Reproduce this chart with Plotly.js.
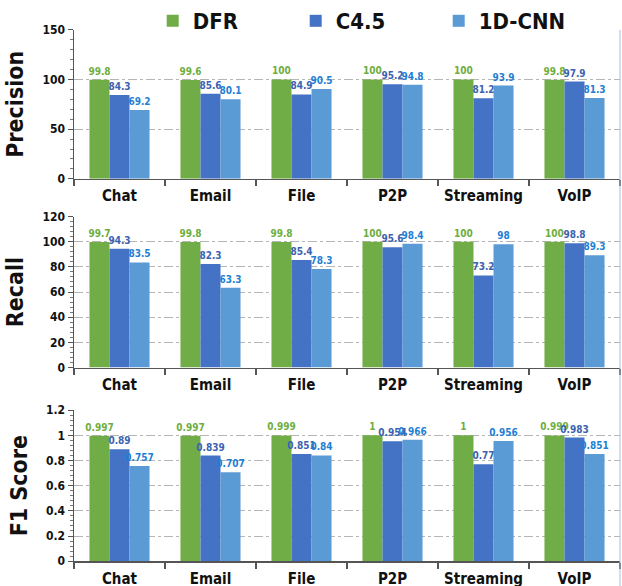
<!DOCTYPE html>
<html>
<head>
<meta charset="utf-8">
<script src="https://cdn.plot.ly/plotly-3.0.1.min.js"></script>
<style>html,body{margin:0;padding:0;background:#fff}#chart{width:622px;height:586px}</style>
</head>
<body>
<div id="chart"></div>
<script>
const categories = ["Chat", "Email", "File", "P2P", "Streaming", "VoIP"];
const seriesNames = ["DFR", "C4.5", "1D-CNN"];

const precisionDFR = [99.8, 99.6, 100, 100, 100, 99.8];
const precisionC45 = [84.3, 85.6, 84.9, 95.2, 81.2, 97.9];
const precisionCNN = [69.2, 80.1, 90.5, 94.8, 93.9, 81.3];

const recallDFR = [99.7, 99.8, 99.8, 100, 100, 100];
const recallC45 = [94.3, 82.3, 85.4, 95.6, 73.2, 98.8];
const recallCNN = [83.5, 63.3, 78.3, 98.4, 98, 89.3];

const f1DFR = [0.997, 0.997, 0.999, 1, 1, 0.999];
const f1C45 = [0.89, 0.839, 0.851, 0.954, 0.77, 0.983];
const f1CNN = [0.757, 0.707, 0.84, 0.966, 0.956, 0.851];

const panelTitles = ["Precision", "Recall", "F1 Score"];

const barColors = ["#70AD47", "#4472C4", "#5B9BD5"];
const labelColors = ["#6DAE3E", "#3C62B0", "#1F7FD4"];

const FONT = "'DejaVu Sans Condensed', 'Liberation Sans Narrow', sans-serif";

const panels = [
  [precisionDFR, precisionC45, precisionCNN],
  [recallDFR, recallC45, recallCNN],
  [f1DFR, f1C45, f1CNN]
];

const traces = [];
panels.forEach((series, p) => {
  series.forEach((vals, s) => {
    traces.push({
      type: "bar",
      name: seriesNames[s],
      x: categories,
      y: vals,
      xaxis: p === 0 ? "x" : "x" + (p + 1),
      yaxis: p === 0 ? "y" : "y" + (p + 1),
      marker: {color: barColors[s], line: {width: 0}},
      text: vals.map(v => String(v)),
      textposition: "outside",
      constraintext: "none",
      cliponaxis: false,
      textfont: {family: FONT, size: 10, color: labelColors[s], weight: "bold"},
      showlegend: p === 0,
      legendgroup: seriesNames[s],
      hoverinfo: "x+y"
    });
  });
});

const H = 586;
const dom = (top, bottom) => [1 - bottom / H, 1 - top / H];

function xax(anchor) {
  return {
    anchor: anchor,
    domain: [0, 1],
    showline: true, linecolor: "#555", linewidth: 1.5,
    ticks: "outside", tickson: "boundaries", ticklen: 6, tickcolor: "#555", tickwidth: 1.5,
    tickangle: 0,
    tickfont: {family: FONT, size: 15, color: "#111", weight: "bold"},
    ticklabelstandoff: 3,
    showgrid: false, zeroline: false, fixedrange: true
  };
}
function yax(anchor, domain, range, dtick, minor, title) {
  return {
    anchor: anchor,
    domain: domain,
    range: range,
    dtick: dtick,
    showline: true, linecolor: "#555", linewidth: 1.5,
    ticks: "outside", ticklen: 5, tickcolor: "#555", tickwidth: 1,
    minor: {dtick: minor, ticks: "outside", ticklen: 3, tickcolor: "#777", showgrid: false},
    tickfont: {family: FONT, size: 12, color: "#111", weight: "bold"},
    showgrid: true, gridcolor: "#b5b5b5", griddash: "dashdot", gridwidth: 1,
    zeroline: false, fixedrange: true,
    title: {text: title, font: {family: FONT, size: 23, color: "#111", weight: "bold"}, standoff: 12}
  };
}

const layout = {
  width: 622, height: 586,
  margin: {l: 74, r: 2, t: 0, b: 0},
  paper_bgcolor: "#fff", plot_bgcolor: "#fff",
  barmode: "group", bargap: 0.34, bargroupgap: 0,
  showlegend: true,
  legend: {
    orientation: "h", x: 0.537, xanchor: "center", y: 1 - 17 / H, yanchor: "middle",
    font: {family: FONT, size: 22, color: "#111", weight: "bold"},
    entrywidth: 98, entrywidthmode: "pixels", itemwidth: 30,
    bgcolor: "rgba(0,0,0,0)"
  },
  xaxis: xax("y"),
  xaxis2: xax("y2"),
  xaxis3: xax("y3"),
  yaxis: yax("x", dom(26, 176), [0, 150], 50, 10, panelTitles[0]),
  yaxis2: yax("x2", dom(214, 366), [0, 120], 20, 4, panelTitles[1]),
  yaxis3: yax("x3", dom(409, 561), [0, 1.2], 0.2, 0.04, panelTitles[2]),
  shapes: [
    {type: "line", xref: "paper", yref: "paper", x0: 1, x1: 1, y0: 0, y1: 1 - 26 / H, line: {color: "#9cc3e6", width: 1}}
  ]
};

Plotly.newPlot("chart", traces, layout, {displayModeBar: false, staticPlot: true});
</script>
</body>
</html>
